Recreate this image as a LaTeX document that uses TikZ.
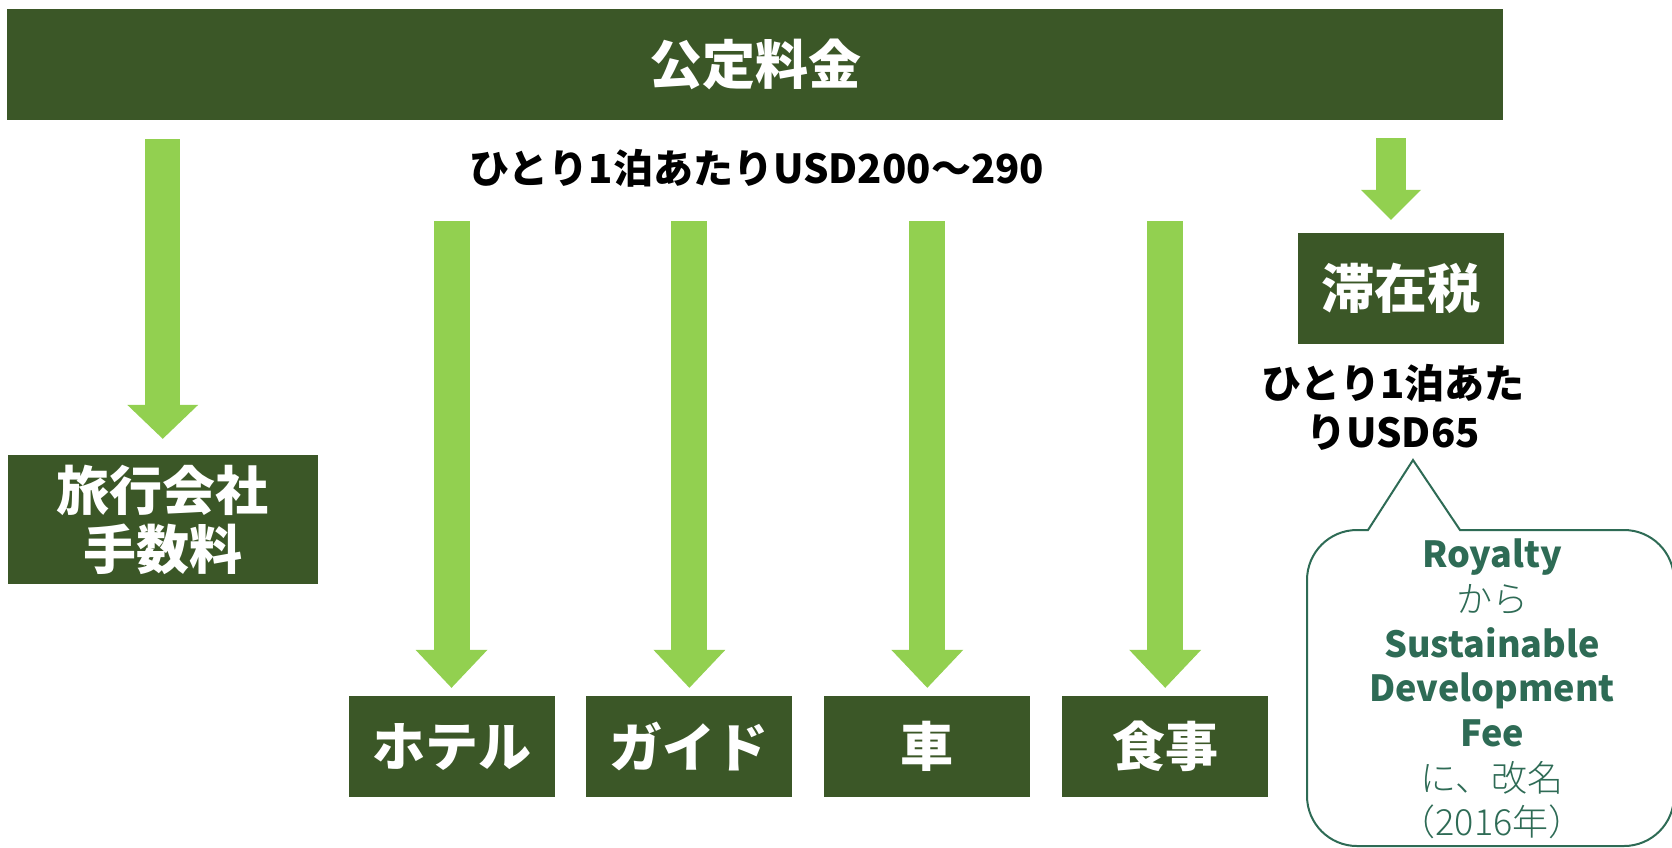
\documentclass[tikz,border=0pt]{standalone}
\usepackage{fontspec}
\setmainfont{Noto Sans CJK JP}
\IfFontExistsTF{Noto Sans CJK JP Light}{\newfontfamily\lightjp{Noto Sans CJK JP Light}}{\newfontfamily\lightjp{Noto Sans CJK JP}}
\usetikzlibrary{arrows.meta,positioning}
\definecolor{D}{RGB}{59,87,39}
\definecolor{A}{RGB}{146,208,80}
\definecolor{T}{RGB}{46,107,85}
\newcommand{\sizedfont}[2]{\fontsize{#1}{#2}\selectfont}
\newcommand{\drawarrow}{\draw[bigarrow]}
\tikzset{
  darkbox/.style={fill=D, text=white, inner sep=0pt, align=center,
    font=\bfseries\sizedfont{53}{59}},
  lowbox/.style={darkbox, minimum width=206pt, minimum height=101pt},
  ratetext/.style={inner sep=0pt, align=center, font=\bfseries\sizedfont{40}{49}},
  bigarrow/.style={draw=A, line width=36pt,
    -{Triangle[width=72pt,length=38pt,line width=0pt]}},
  notetext/.style={text=T, inner sep=0pt, align=center, font=\sizedfont{36}{44.7}}
}
\begin{document}
\begin{tikzpicture}[x=1pt,y=-1pt]
\useasboundingbox (0,0) rectangle (1672,847);
\node[darkbox, minimum width=1496pt, minimum height=111pt] (top) at (755.25,64.5) {公定料金};
\node[ratetext] (rate) at (757,168) {ひとり1泊あたりUSD200〜290};
\node[darkbox, minimum width=310.5pt, minimum height=129pt] (agency) at (162.75,519.5) {旅行会社\\手数料};
\node[lowbox] (hotel) at (451.5,746.5) {ホテル};
\node[lowbox, right=31.5pt of hotel] (guide) {ガイド};
\node[lowbox, right=31.5pt of guide] (car) {車};
\node[lowbox, right=31.5pt of car] (meal) {食事};
\node[darkbox, minimum width=206pt, minimum height=111pt] (tax) at (1401,288.5) {滞在税};
\node[ratetext] (taxrate) at (1393,407.5) {ひとり1泊あた\\りUSD65};
% arrows
\drawarrow[line width=35pt, -{Triangle[width=71pt,length=34pt,line width=0pt]}, shorten <=19pt, shorten >=16pt] (agency.north |- top.south) -- (agency.north);
\foreach \n in {hotel,guide,car,meal}{
  \drawarrow[shorten <=101pt, shorten >=8pt] (\n.north |- top.south) -- (\n.north);
}
\drawarrow[line width=30pt, -{Triangle[width=60pt,length=30pt,line width=0pt]}, shorten <=18pt, shorten >=13pt] ([xshift=-10pt]tax.north |- top.south) -- ([xshift=-10pt]tax.north);
% callout
\draw[T, line width=2pt, fill=white] (1460,530) -- (1624,530) arc[start angle=270, end angle=360, radius=50]
  -- (1674,796) arc[start angle=0, end angle=90, radius=50]
  -- (1357,846) arc[start angle=90, end angle=180, radius=50]
  -- (1307,580) arc[start angle=180, end angle=270, radius=50]
  -- (1368,530) -- (1413,460) -- cycle;
\node[notetext] (note) at (1492,689) {\textbf{Royalty}\\{\lightjp から}\\\textbf{Sustainable}\\\textbf{Development}\\\textbf{Fee}\\{\lightjp に、改名}\\{\lightjp （2016年）}};
\end{tikzpicture}
\end{document}
